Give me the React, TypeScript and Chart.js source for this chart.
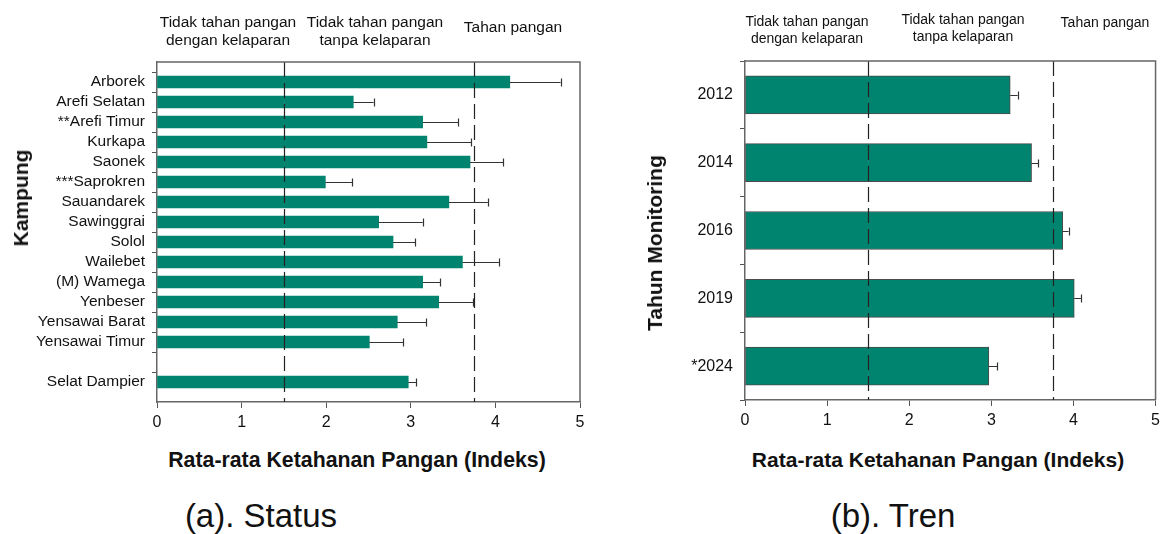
import React, { useEffect, useRef } from 'react';
import { Chart, registerables } from 'chart.js';
Chart.register(...registerables);

const villages = ['Arborek', 'Arefi Selatan', '**Arefi Timur', 'Kurkapa', 'Saonek', '***Saprokren', 'Sauandarek', 'Sawinggrai', 'Solol', 'Wailebet', '(M) Wamega', 'Yenbeser', 'Yensawai Barat', 'Yensawai Timur', '', 'Selat Dampier'];
const villageMeans = [4.17, 2.32, 3.14, 3.19, 3.70, 1.99, 3.45, 2.62, 2.79, 3.61, 3.14, 3.33, 2.84, 2.51, null, 2.97];
const villageErrors = [0.60, 0.24, 0.42, 0.52, 0.39, 0.32, 0.46, 0.52, 0.26, 0.43, 0.21, 0.41, 0.34, 0.40, null, 0.09];

const years = ['2012', '2014', '2016', '2019', '*2024'];
const yearMeans = [3.23, 3.49, 3.87, 4.01, 2.97];
const yearErrors = [0.09, 0.08, 0.07, 0.08, 0.10];

const xMin = 0;
const xMax = 5;
const thresholds = [1.5, 3.75];
const zoneLabels = [['Tidak tahan pangan', 'dengan kelaparan'], ['Tidak tahan pangan', 'tanpa kelaparan'], ['Tahan pangan']];
const xTitle = 'Rata-rata Ketahanan Pangan (Indeks)';

const FONT = '"Liberation Sans", Arial, Helvetica, sans-serif';
const BAR = '#00846F';

type PanelProps = {
  labels: string[];
  values: (number | null)[];
  errors: (number | null)[];
  width: number;
  height: number;
  yWidth: number;
  padTop: number;
  padRight: number;
  xHeight: number;
  barThickness: number;
  offset: boolean;
  yFont: number;
  xFont: number;
  borderWidth: number;
  edgeBlank: boolean;
};

function Panel(p: PanelProps) {
  const ref = useRef<HTMLCanvasElement | null>(null);
  useEffect(() => {
    if (!ref.current) return;
    const overlay = {
      id: 'overlay',
      afterDatasetsDraw(chart: any) {
        const ctx = chart.ctx;
        const area = chart.chartArea;
        const xs = chart.scales.x;
        ctx.save();
        // threshold dashed lines
        ctx.strokeStyle = '#222';
        ctx.lineWidth = 1.2;
        ctx.setLineDash([15, 6]);
        thresholds.forEach((t) => {
          const x = Math.round(xs.getPixelForValue(t)) + 0.5;
          ctx.beginPath();
          ctx.moveTo(x, area.top);
          ctx.lineTo(x, area.bottom);
          ctx.stroke();
        });
        ctx.setLineDash([]);
        // error bars
        const meta = chart.getDatasetMeta(0);
        ctx.strokeStyle = '#333';
        ctx.lineWidth = 1.2;
        meta.data.forEach((el: any, i: number) => {
          const v = p.values[i];
          const e = p.errors[i];
          if (v == null || e == null) return;
          const x0 = xs.getPixelForValue(v);
          const x1 = xs.getPixelForValue(v + e);
          const y = Math.round(el.y) + 0.5;
          ctx.beginPath();
          ctx.moveTo(x0, y);
          ctx.lineTo(x1, y);
          ctx.moveTo(Math.round(x1) + 0.5, y - 4);
          ctx.lineTo(Math.round(x1) + 0.5, y + 4);
          ctx.stroke();
        });
        // frame top & right
        ctx.strokeStyle = '#666';
        ctx.lineWidth = 1.5;
        ctx.beginPath();
        ctx.moveTo(area.left, area.top);
        ctx.lineTo(area.right, area.top);
        ctx.lineTo(area.right, area.bottom);
        ctx.stroke();
        ctx.restore();
      },
    };
    const n = p.labels.length;
    const chart = new Chart(ref.current, {
      type: 'bar',
      data: {
        labels: p.labels,
        datasets: [
          {
            data: p.values as any,
            backgroundColor: BAR,
            borderColor: '#4a4a4a',
            borderWidth: p.borderWidth,
            borderSkipped: false,
            barThickness: p.barThickness,
          },
        ],
      },
      options: {
        indexAxis: 'y',
        responsive: false,
        animation: false,
        layout: { padding: { top: p.padTop, right: p.padRight, left: 0, bottom: 0 } },
        plugins: { legend: { display: false }, tooltip: { enabled: false } },
        scales: {
          x: {
            type: 'linear',
            min: xMin,
            max: xMax,
            ticks: { stepSize: 1, color: '#111', font: { family: FONT, size: p.xFont }, padding: 5 },
            grid: { display: true, drawOnChartArea: false, drawTicks: true, tickLength: 6, color: '#555' },
            border: { display: true, color: '#666', width: 1.5 },
            afterFit: (s: any) => {
              s.height = p.xHeight;
            },
          },
          y: {
            type: 'category',
            offset: p.offset,
            ticks: { color: '#111', font: { family: FONT, size: p.yFont }, padding: 7, autoSkip: false },
            grid: {
              display: true,
              drawOnChartArea: false,
              drawTicks: true,
              tickLength: 5,
              color: (c: any) => (p.edgeBlank && (c.index === 0 || c.index === n - 1) ? 'rgba(0,0,0,0)' : '#555'),
            },
            border: { display: true, color: '#666', width: 1.5 },
            afterFit: (s: any) => {
              s.width = p.yWidth;
            },
          },
        },
      },
      plugins: [overlay],
    });
    return () => chart.destroy();
  }, []);
  return <canvas ref={ref} width={p.width} height={p.height} style={{ width: p.width, height: p.height, display: 'block' }} />;
}

const abs = (x: number, y: number, extra: any = {}): any => ({
  position: 'absolute',
  left: x,
  top: y,
  transform: 'translate(-50%, -50%)',
  whiteSpace: 'nowrap',
  fontFamily: FONT,
  color: '#111',
  textAlign: 'center',
  ...extra,
});

function Header({ cx, y, lines, size, lh }: { cx: number; y: number; lines: string[]; size: number; lh: number }) {
  return (
    <div style={abs(cx, y, { fontSize: size, lineHeight: lh + 'px' })}>
      {lines.map((l, i) => (
        <div key={i}>{l}</div>
      ))}
    </div>
  );
}

export default function App() {
  const leftLabels = ['', ...villages, ''];
  const leftValues = [null, ...villageMeans, null];
  const leftErrors = [null, ...villageErrors, null];
  return (
    <div style={{ position: 'fixed', left: 0, top: 0, width: 1165, height: 534, background: '#fff', overflow: 'hidden' }}>
      <div style={{ position: 'absolute', left: 0, top: 0 }}>
        <Panel
          labels={leftLabels}
          values={leftValues}
          errors={leftErrors}
          width={600}
          height={440}
          yWidth={157}
          padTop={62}
          padRight={20}
          xHeight={38}
          barThickness={12}
          offset={false}
          yFont={15.5}
          xFont={16}
          borderWidth={0}
          edgeBlank={true}
        />
      </div>
      <div style={{ position: 'absolute', left: 600, top: 0 }}>
        <Panel
          labels={years}
          values={yearMeans}
          errors={yearErrors}
          width={565}
          height={440}
          yWidth={145}
          padTop={61}
          padRight={7}
          xHeight={40}
          barThickness={38}
          offset={true}
          yFont={16}
          xFont={16}
          borderWidth={1}
          edgeBlank={false}
        />
      </div>

      {/* left headers */}
      <Header cx={228} y={31} lines={zoneLabels[0]} size={15.5} lh={18} />
      <Header cx={375} y={31} lines={zoneLabels[1]} size={15.5} lh={18} />
      <Header cx={513} y={27} lines={zoneLabels[2]} size={15.5} lh={18} />
      {/* right headers */}
      <Header cx={807} y={30} lines={zoneLabels[0]} size={14} lh={17} />
      <Header cx={963} y={28} lines={zoneLabels[1]} size={14} lh={17} />
      <Header cx={1105} y={22} lines={zoneLabels[2]} size={14} lh={17} />

      {/* y titles */}
      <div style={abs(21, 198, { fontSize: 21, fontWeight: 'bold', transform: 'translate(-50%, -50%) rotate(-90deg)' })}>Kampung</div>
      <div style={abs(655, 243, { fontSize: 21, fontWeight: 'bold', transform: 'translate(-50%, -50%) rotate(-90deg)' })}>Tahun Monitoring</div>

      {/* x titles */}
      <div style={abs(357, 460, { fontSize: 21.3, fontWeight: 'bold' })}>{xTitle}</div>
      <div style={abs(938, 460, { fontSize: 21, fontWeight: 'bold' })}>{xTitle}</div>

      {/* captions */}
      <div style={abs(261, 516, { fontSize: 33 })}>(a). Status</div>
      <div style={abs(893, 516, { fontSize: 33 })}>(b). Tren</div>
    </div>
  );
}
